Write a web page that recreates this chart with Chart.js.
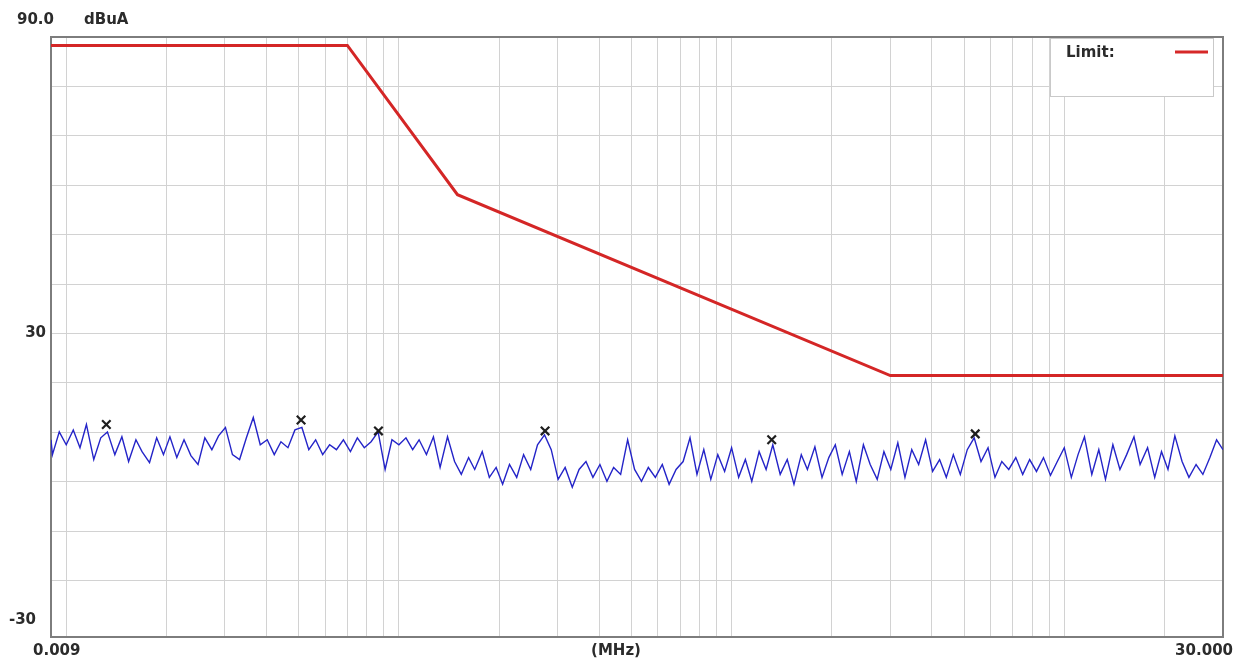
<!DOCTYPE html>
<html>
<head>
<meta charset="utf-8">
<title>Conducted emission scan</title>
<script src="https://cdn.jsdelivr.net/npm/chart.js@4.4.1/dist/chart.umd.min.js"></script>
<style>
  html, body { margin: 0; padding: 0; background: #fff; }
  #wrap { width: 1246px; height: 663px; position: relative; }
</style>
</head>
<body>
<div id="wrap"><canvas id="chart"></canvas></div>
<script>
// Receiver sweep frequencies (MHz)
const traceFreq = [
  0.0090, 0.00909, 0.00953,
  0.0100, 0.0105, 0.0110, 0.0115, 0.0121, 0.0127, 0.0133, 0.0140, 0.0147, 0.0154,
  0.0162, 0.0169, 0.0178, 0.0187, 0.0196, 0.0205, 0.0215, 0.0226, 0.0237, 0.0249,
  0.0261, 0.0274, 0.0287, 0.0301, 0.0316, 0.0332, 0.0348, 0.0365, 0.0383, 0.0402,
  0.0422, 0.0442, 0.0464, 0.0487, 0.0511, 0.0536, 0.0562, 0.0590, 0.0619, 0.0649,
  0.0681, 0.0715, 0.0750, 0.0787, 0.0825, 0.0866, 0.0909, 0.0953,
  0.100, 0.105, 0.110, 0.115, 0.121, 0.127, 0.133, 0.140, 0.147, 0.154,
  0.162, 0.169, 0.178, 0.187, 0.196, 0.205, 0.215, 0.226, 0.237, 0.249,
  0.261, 0.274, 0.287, 0.301, 0.316, 0.332, 0.348, 0.365, 0.383, 0.402,
  0.422, 0.442, 0.464, 0.487, 0.511, 0.536, 0.562, 0.590, 0.619, 0.649,
  0.681, 0.715, 0.750, 0.787, 0.825, 0.866, 0.909, 0.953,
  1.00, 1.05, 1.10, 1.15, 1.21, 1.27, 1.33, 1.40, 1.47, 1.54,
  1.62, 1.69, 1.78, 1.87, 1.96, 2.05, 2.15, 2.26, 2.37, 2.49,
  2.61, 2.74, 2.87, 3.01, 3.16, 3.32, 3.48, 3.65, 3.83, 4.02,
  4.22, 4.42, 4.64, 4.87, 5.11, 5.36, 5.62, 5.90, 6.19, 6.49,
  6.81, 7.15, 7.50, 7.87, 8.25, 8.66, 9.09, 9.53,
  10.0, 10.5, 11.0, 11.5, 12.1, 12.7, 13.3, 14.0, 14.7, 15.4,
  16.2, 16.9, 17.8, 18.7, 19.6, 20.5, 21.5, 22.6, 23.7, 24.9,
  26.1, 27.4, 28.7, 30.0
];

// Measured level (dBuA)
const traceLevel = [
  8.5, 5.5, 10.1,
  7.5, 10.5, 6.9, 11.6, 4.5, 8.9, 10.1, 5.5, 9.1, 4.1,
  8.5, 6.1, 3.9, 8.9, 5.5, 9.1, 4.9, 8.5, 5.3, 3.5,
  8.9, 6.5, 9.3, 11.0, 5.5, 4.5, 8.9, 13.0, 7.5, 8.5,
  5.5, 8.1, 6.9, 10.5, 11.0, 6.5, 8.5, 5.5, 7.5, 6.5,
  8.5, 6.1, 8.9, 6.9, 8.1, 10.1, 2.5, 8.5,
  7.5, 8.9, 6.5, 8.5, 5.5, 9.1, 2.9, 9.1, 4.1, 1.5,
  4.9, 2.5, 6.1, 0.9, 2.9, -0.5, 3.5, 0.9, 5.5, 2.5,
  7.5, 9.5, 6.5, 0.5, 2.9, -1.1, 2.5, 4.1, 0.9, 3.5,
  0.1, 2.9, 1.5, 8.5, 2.5, 0.1, 2.9, 0.9, 3.5, -0.5,
  2.5, 4.1, 8.9, 1.5, 6.5, 0.5, 5.5, 2.1,
  6.9, 0.9, 4.5, 0.1, 6.1, 2.5, 7.5, 1.5, 4.5, -0.5,
  5.5, 2.5, 7.1, 0.9, 4.9, 7.5, 1.5, 6.1, 0.1, 7.5,
  3.5, 0.5, 6.1, 2.5, 7.9, 0.9, 6.5, 3.5, 8.5, 2.1,
  4.5, 0.9, 5.5, 1.5, 6.5, 8.9, 4.1, 6.9, 0.9, 4.1,
  2.5, 4.9, 1.5, 4.5, 2.1, 4.9, 1.3, 4.1,
  6.9, 0.9, 5.5, 9.1, 1.5, 6.5, 0.5, 7.5, 2.5, 5.5,
  9.1, 3.5, 6.9, 0.9, 6.1, 2.5, 9.3, 4.1, 0.9, 3.5,
  1.5, 4.9, 8.5, 6.5
];

// Peak markers
const markerFreq = [0.0132, 0.0508, 0.0868, 0.275, 1.32, 5.40];
const markerLevel = [11.6, 12.5, 10.3, 10.3, 8.5, 9.7];

// Limit line
const limitFreq = [0.009, 0.07, 0.15, 3.0, 30];
const limitLevel = [88.3, 88.3, 58.1, 21.5, 21.5];

// Grid positions
const gridFreq = [
  0.01, 0.02, 0.03, 0.04, 0.05, 0.06, 0.07, 0.08, 0.09,
  0.1, 0.2, 0.3, 0.4, 0.5, 0.6, 0.7, 0.8, 0.9,
  1, 2, 3, 4, 5, 6, 7, 8, 9,
  10, 20
];
const gridLevel = [80, 70, 60, 50, 40, 30, 20, 10, 0, -10, -20];

const FONT = "bold 15px 'DejaVu Sans'";
const TEXT = "#2b2b2b";

function points(xs, ys) {
  return xs.map((x, i) => ({ x: x, y: ys[i] }));
}

// Plot frame, axis texts and the legend box
const decorations = {
  id: "decorations",
  beforeDatasetsDraw(chart) {
    const { ctx, chartArea: a } = chart;
    ctx.save();
    ctx.strokeStyle = "#7d7d7d";
    ctx.lineWidth = 2;
    ctx.strokeRect(a.left, a.top, a.right - a.left, a.bottom - a.top);
    ctx.restore();
  },
  afterDraw(chart) {
    const { ctx, scales } = chart;
    ctx.save();
    ctx.font = FONT;
    ctx.fillStyle = TEXT;
    ctx.textBaseline = "middle";

    ctx.textAlign = "left";
    ctx.fillText("90.0", 17, 20);
    ctx.fillText("dBuA", 84, 20);
    ctx.textAlign = "right";
    ctx.fillText("30", 46, scales.y.getPixelForValue(30));
    ctx.fillText("-30", 36, 620);

    ctx.textAlign = "left";
    ctx.fillText("0.009", 33, 651);
    ctx.textAlign = "right";
    ctx.fillText("30.000", 1233, 651);
    ctx.textAlign = "center";
    ctx.fillText("(MHz)", 616, 651);

    // legend
    ctx.fillStyle = "#fff";
    ctx.fillRect(1050, 38, 164, 59);
    ctx.strokeStyle = "#c9c9c9";
    ctx.lineWidth = 1;
    ctx.strokeRect(1050.5, 38.5, 163, 58);
    ctx.fillStyle = TEXT;
    ctx.textAlign = "left";
    ctx.fillText("Limit:", 1066, 53);
    ctx.strokeStyle = "#d62828";
    ctx.lineWidth = 3;
    ctx.beginPath();
    ctx.moveTo(1175, 52);
    ctx.lineTo(1208, 52);
    ctx.stroke();
    ctx.restore();
  }
};

const chart = new Chart(document.getElementById("chart"), {
  type: "line",
  data: {
    datasets: [
      {
        label: "Peaks",
        type: "scatter",
        data: points(markerFreq, markerLevel),
        pointStyle: "crossRot",
        pointRadius: 6,
        borderColor: "#1e1e1e",
        borderWidth: 2.2,
        showLine: false,
        order: 0
      },
      {
        label: "Limit",
        data: points(limitFreq, limitLevel),
        borderColor: "#d42626",
        borderWidth: 3,
        pointRadius: 0,
        order: 1
      },
      {
        label: "Level",
        data: points(traceFreq, traceLevel),
        borderColor: "#2424c8",
        borderWidth: 1.4,
        pointRadius: 0,
        tension: 0,
        order: 2
      }
    ]
  },
  options: {
    responsive: true,
    maintainAspectRatio: false,
    animation: false,
    layout: { padding: { left: 51, right: 23, top: 37, bottom: 26 } },
    plugins: {
      legend: { display: false },
      tooltip: { enabled: false }
    },
    scales: {
      x: {
        type: "logarithmic",
        min: 0.009,
        max: 30,
        afterBuildTicks: (s) => { s.ticks = gridFreq.map((v) => ({ value: v })); },
        ticks: { display: false },
        grid: { color: "#d2d2d2", lineWidth: 1, drawTicks: false },
        border: { display: false }
      },
      y: {
        type: "linear",
        min: -31.4,
        max: 90,
        afterBuildTicks: (s) => { s.ticks = gridLevel.map((v) => ({ value: v })); },
        ticks: { display: false },
        grid: { color: "#d2d2d2", lineWidth: 1, drawTicks: false },
        border: { display: false }
      }
    }
  },
  plugins: [decorations]
});
</script>
</body>
</html>
